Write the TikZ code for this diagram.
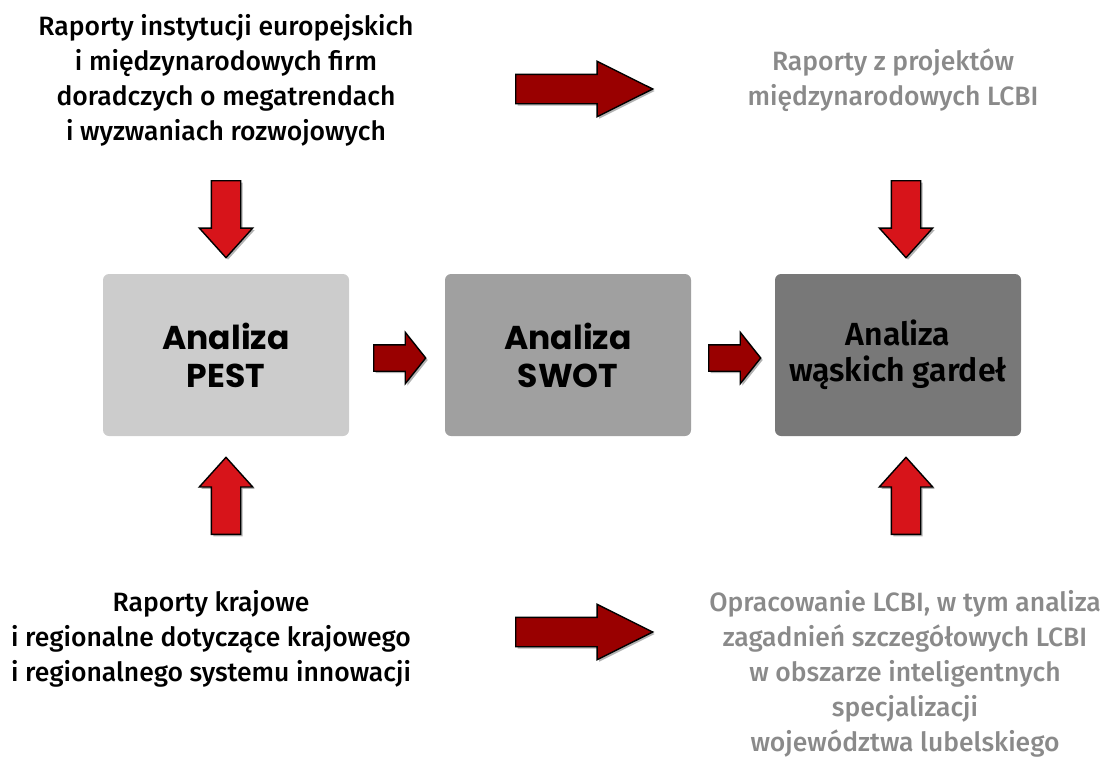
\documentclass[tikz,border=0pt]{standalone}
\usepackage{fontspec}
\setmainfont{Fira Sans}[UprightFont=* Medium, BoldFont=* SemiBold]
\newfontfamily\boxfont{Poppins}
\usetikzlibrary{shapes.arrows,shadows}

\definecolor{darkred}{HTML}{990000}
\definecolor{brightred}{HTML}{D7141A}
\definecolor{pestgray}{HTML}{CCCCCC}
\definecolor{swotgray}{HTML}{A0A0A0}
\definecolor{gardgray}{HTML}{787878}
\definecolor{srcgray}{HTML}{8A8A8A}

\tikzset{
  src/.style={align=center, font=\fontsize{26.5}{35}\selectfont, inner sep=0},
  srcgrey/.style={src, text=srcgray},
  anbox/.style={rounded corners=6pt, minimum width=246, minimum height=162,
    align=center, inner sep=0},
  blockarrow/.style={single arrow, draw=black, line width=1.4pt, inner sep=0,
    anchor=tail, text height=0pt, text depth=0pt, text width=0pt,
    single arrow head indent=0pt,
    drop shadow={shadow xshift=2pt, shadow yshift=-2pt, opacity=.3, fill=black}},
  longarrow/.style={blockarrow, fill=darkred, inner ysep=14, minimum height=137,
    single arrow head extend=13, single arrow tip angle=53},
  vertarrow/.style={blockarrow, fill=brightred, inner xsep=14, minimum height=77,
    single arrow head extend=12, single arrow tip angle=84},
  shortarrow/.style={blockarrow, fill=darkred, inner ysep=12.5, minimum height=52,
    single arrow head extend=12.5, single arrow tip angle=103}
}

\begin{document}
\begin{tikzpicture}[x=1pt, y=-1pt]
\useasboundingbox (0,0) rectangle (1110,758);

% zrodla
\node[src] (eu) at (226,80) {Raporty instytucji europejskich\\i międzynarodowych firm\\doradczych o megatrendach\\i wyzwaniach rozwojowych};
\node[srcgrey] (proj) at (893,80) {Raporty z projektów\\międzynarodowych LCBI};
\node[src] (kraj) at (211,639) {Raporty krajowe\\i regionalne dotyczące krajowego\\i regionalnego systemu innowacji};
\node[srcgrey] (lcbi) at (905,674) {Opracowanie LCBI, w tym analiza\\zagadnień szczegółowych LCBI\\w obszarze inteligentnych\\specjalizacji\\województwa lubelskiego};

% analizy
\node[anbox, fill=pestgray, font=\boxfont\bfseries\fontsize{33}{38}\selectfont] (pest) at (226,355) {Analiza\\PEST};
\node[anbox, fill=swotgray, font=\boxfont\bfseries\fontsize{33}{38}\selectfont] (swot) at (568,355) {Analiza\\SWOT};
\node[anbox, fill=gardgray, font=\bfseries\fontsize{32}{36}\selectfont] (gard) at (898,355) {Analiza\\wąskich gardeł};

% strzalki
\node[longarrow] (a1) at (515,89) {};
\node[longarrow] (a2) at (515,632) {};
\node[shortarrow] (a3) at (373,358) {};
\node[shortarrow] (a4) at (708,358) {};
\node[vertarrow, shape border rotate=270] (d1) at (226,180) {};
\node[vertarrow, shape border rotate=270] (d2) at (906,180) {};
\node[vertarrow, shape border rotate=90] (u1) at (226,535) {};
\node[vertarrow, shape border rotate=90] (u2) at (906,535) {};

\end{tikzpicture}
\end{document}
